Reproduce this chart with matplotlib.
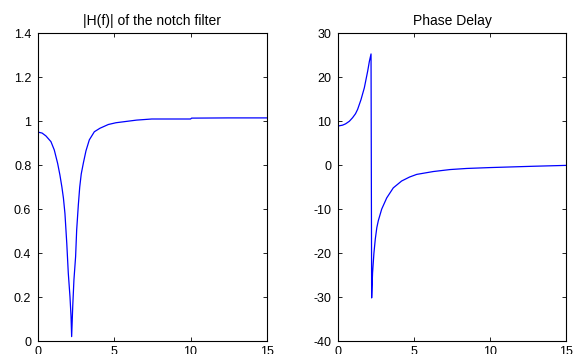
import numpy as np
import matplotlib
matplotlib.use('Agg')
from matplotlib import pyplot as plt

plt.rcParams['font.family'] = ['Liberation Sans', 'DejaVu Sans']
plt.rcParams['axes.unicode_minus'] = False

# |H(f)|
f_mag = [0.0, 0.25, 0.5, 0.83, 1.05, 1.27, 1.42, 1.55, 1.65, 1.75, 1.87, 1.97, 2.08, 2.15, 2.19,
         2.26, 2.34, 2.45, 2.52, 2.63, 2.72, 2.82, 2.96, 3.13, 3.35, 3.68, 4.05, 4.6, 5.1,
         6.46, 7.45, 10.0, 10.07, 12.5, 15.0]
h_mag = [0.950, 0.946, 0.933, 0.907, 0.869, 0.808, 0.755, 0.700, 0.650, 0.580, 0.444, 0.308, 0.202, 0.111, 0.02,
         0.156, 0.278, 0.384, 0.505, 0.620, 0.700, 0.760, 0.810, 0.865, 0.915, 0.952, 0.968, 0.985, 0.993,
         1.005, 1.010, 1.010, 1.014, 1.015, 1.015]

# phase delay
f_ph = [0.0, 0.3, 0.5, 0.75, 0.96, 1.15, 1.29, 1.51, 1.73, 1.95, 2.06, 2.17,
        2.21, 2.27, 2.36, 2.45, 2.55, 2.65, 2.87, 3.2, 3.63, 4.18, 4.7, 5.17, 6.26,
        7.36, 8.45, 9.98, 12.83, 15.0]
phase = [8.9, 9.1, 9.4, 10.0, 10.8, 11.7, 12.7, 14.9, 17.6, 21.4, 23.6, 25.3,
         -30.2, -24.5, -20.0, -16.8, -14.2, -12.6, -10.0, -7.45, -5.17, -3.6, -2.7, -2.1, -1.45,
         -1.0, -0.75, -0.55, -0.25, -0.05]

fig = plt.figure(figsize=(5.76, 3.54), dpi=100)
ax1 = fig.add_axes([0.0665, 0.0367, 0.3965, 0.8693])
ax2 = fig.add_axes([0.5868, 0.0367, 0.3965, 0.8693])

ax1.plot(f_mag, h_mag, color='#0000ff', lw=0.9)
ax1.set_xlim(0, 15)
ax1.set_ylim(0, 1.4)
ax1.set_xticks([0, 5, 10, 15])
ax1.set_yticks(np.arange(0, 1.41, 0.2))
ax1.set_yticklabels(['0', '0.2', '0.4', '0.6', '0.8', '1', '1.2', '1.4'])
ax1.set_title('|H(f)| of the notch filter', fontsize=10, pad=6)

ax2.plot(f_ph, phase, color='#0000ff', lw=0.9)
ax2.set_xlim(0, 15)
ax2.set_ylim(-40, 30)
ax2.set_xticks([0, 5, 10, 15])
ax2.set_yticks(range(-40, 31, 10))
ax2.set_title('Phase Delay', fontsize=10, pad=6)

for ax in (ax1, ax2):
    ax.tick_params(direction='in', top=True, right=True, labelsize=9, length=3, width=0.6, pad=5)
    ax.tick_params(axis='x', pad=3.5)
    for s in ax.spines.values():
        s.set_linewidth(0.8)

fig.savefig('out.png', dpi=100)
